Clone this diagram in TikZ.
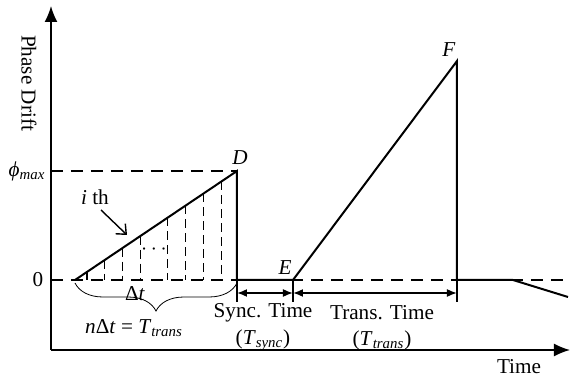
\documentclass[tikz,border=0pt]{standalone}
\usepackage{fontspec}
\setmainfont{Liberation Serif}
\usetikzlibrary{arrows.meta, decorations.pathreplacing, calc}

\begin{document}
\begin{tikzpicture}[x=0.5pt, y=0.5pt, font=\fontsize{10.6}{12.7}\selectfont]
    % Define styles
    \tikzstyle{axis} = [line width=0.8pt, -{Latex[length=8pt, width=6.5pt]}]
    \tikzstyle{drift} = [line width=1pt]
    \tikzstyle{guide} = [line width=0.6pt, dash pattern=on 6pt off 4pt]
    \tikzstyle{slice} = [line width=0.5pt, dash pattern=on 4.5pt off 2.5pt]
    \tikzstyle{span} = [line width=0.8pt, {Latex[length=5pt, width=4pt]}-{Latex[length=5pt, width=4pt]}]
    \tikzstyle{bar} = [line width=0.6pt]

    \useasboundingbox (-51,-31) rectangle (519,350);

    % Key points
    \coordinate (O) at (0,0);
    \coordinate (ytop) at (0,344);
    \coordinate (xend) at (519,0);
    \coordinate (zl) at (0,70);
    \coordinate (zr) at (519,70);
    \coordinate (ml) at (0,179);
    \coordinate (A) at (24,70);
    \coordinate (D) at (186,179);
    \coordinate (D0) at (186,70);
    \coordinate (E) at (242,70);
    \coordinate (F) at (406,289);
    \coordinate (F0) at (406,70);
    \coordinate (G) at (462,70);
    \coordinate (H) at (517,53);

    % Axes
    \draw[axis] (O) -- (ytop);
    \draw[axis] (O) -- (xend);
    \node[rotate=-90] (ylab) at (-22,267) {Phase Drift};
    \node (xlab) at (468,-17) {Time};
    \node (l0) at (-13,70) {0};
    \node (lmax) at (-24,179) {\textit{ϕ}\textsubscript{\textit{max}}};

    % Guide lines
    \draw[guide] (zl) -- (zr);
    \draw[guide] (ml) -- (D);

    % Slices under the ramp
    \draw[bar] ($(A)!0.074!(D)$) -- ($(A)!0.074!(D0)$);
    \foreach \t in {0.185,0.296,0.407,0.574,0.685,0.796,0.907}
        \draw[slice] ($(A)!\t!(D)$) -- ($(A)!\t!(D0)$);
    \node (dots) at (103,100) {$\cdots$};

    % Phase drift curve
    \draw[drift] (A) -- (D) -- (D0) -- (E) -- (F) -- (F0) -- (G) -- (H);
    \node (lD) at (189,192) {\textit{D}};
    \node (lE) at (234,82) {\textit{E}};
    \node (lF) at (398,300) {\textit{F}};

    % i-th slice pointer
    \node (ith) at (44,153) {\textit{i} th};
    \coordinate (ia) at (50,140);
    \coordinate (ib) at (76,115);
    \draw[line width=0.7pt, -{Straight Barb[length=4pt, width=7pt]}] (ia) -- (ib);

    % Brace
    \draw[line width=0.4pt, decorate, decoration={brace, amplitude=14pt}] (186,67) -- (24,67);
    \node (dt) at (84,56) {Δ\textit{t}};
    \node (ndt) at (83,22) {\textit{n}Δ\textit{t} = \textit{T}\textsubscript{\textit{trans}}};

    % Time spans
    \coordinate (s1) at (186,57);
    \coordinate (s2) at (242,57);
    \coordinate (s3) at (406,57);
    \coordinate (b1) at (186,48);
    \coordinate (b2) at (242,48);
    \coordinate (b3) at (406,48);
    \draw[bar] (D0) -- (b1);
    \draw[bar] (E) -- (b2);
    \draw[bar] (F0) -- (b3);
    \draw[span] (s1) -- (s2);
    \draw[span] (s2) -- (s3);
    \node (sync) at (212,37) {Sync. Time};
    \node (tsync) at (212,10) {(\textit{T}\textsubscript{\textit{sync}})};
    \node (trans) at (331,37) {Trans. Time};
    \node (ttrans) at (331,10) {(\textit{T}\textsubscript{\textit{trans}})};
\end{tikzpicture}
\end{document}
